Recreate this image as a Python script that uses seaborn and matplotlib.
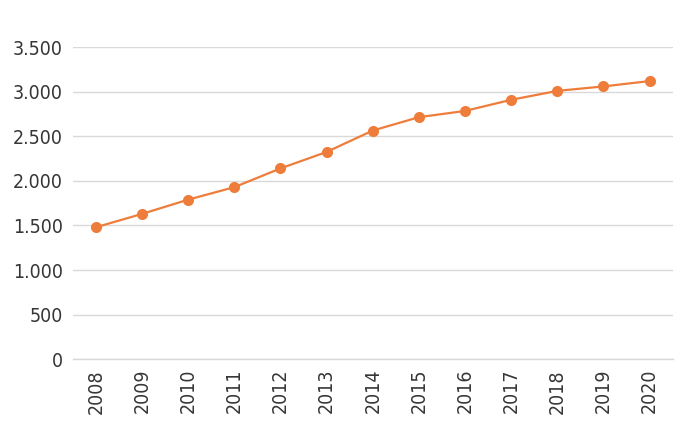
import pandas as pd
import matplotlib.pyplot as plt
import seaborn as sns
from matplotlib.ticker import FuncFormatter

# Values
years = ["2008", "2009", "2010", "2011", "2012", "2013", "2014",
         "2015", "2016", "2017", "2018", "2019", "2020"]
values = [1480, 1630, 1790, 1930, 2140, 2325, 2565,
          2715, 2785, 2910, 3010, 3060, 3120]
y_ticks = [0, 500, 1000, 1500, 2000, 2500, 3000, 3500]

df = pd.DataFrame({"year": years, "value": values})

sns.set_style("white")
plt.rcParams["font.family"] = ["DejaVu Sans"]
plt.rcParams["font.stretch"] = "condensed"

text_color = "#363636"
grid_color = "#d9d9d9"
orange = "#ee7d3b"

fig, ax = plt.subplots(figsize=(7, 4.37), dpi=100)
fig.subplots_adjust(left=0.104, right=0.961, top=0.892, bottom=0.178)

sns.lineplot(data=df, x="year", y="value", ax=ax, color=orange,
             linewidth=1.6, marker="o", markersize=8, markeredgewidth=0,
             sort=False)

ax.set_xlim(-0.5, len(years) - 0.5)
ax.set_ylim(0, 3500)
ax.set_yticks(y_ticks)
ax.yaxis.set_major_formatter(FuncFormatter(lambda v, p: f"{int(v):,}".replace(",", ".")))
ax.grid(axis="y", color=grid_color, linewidth=1)
ax.set_axisbelow(True)

# ticks between categories on the x axis
ax.set_xticks([i - 0.5 for i in range(len(years) + 1)], minor=True)
ax.tick_params(axis="x", which="minor", length=6, width=1, color=grid_color, direction="out")
ax.tick_params(axis="x", which="major", length=0, pad=7)
ax.set_xticks(range(len(years)))
ax.set_xticklabels(years, rotation=90, fontsize=14, color=text_color)
ax.tick_params(axis="y", length=0, labelsize=14, labelcolor=text_color, pad=7)

for side in ["top", "right", "left"]:
    ax.spines[side].set_visible(False)
ax.spines["bottom"].set_color(grid_color)
ax.spines["bottom"].set_linewidth(1)

ax.set_xlabel("")
ax.set_ylabel("")

plt.savefig("out.png", dpi=100)
